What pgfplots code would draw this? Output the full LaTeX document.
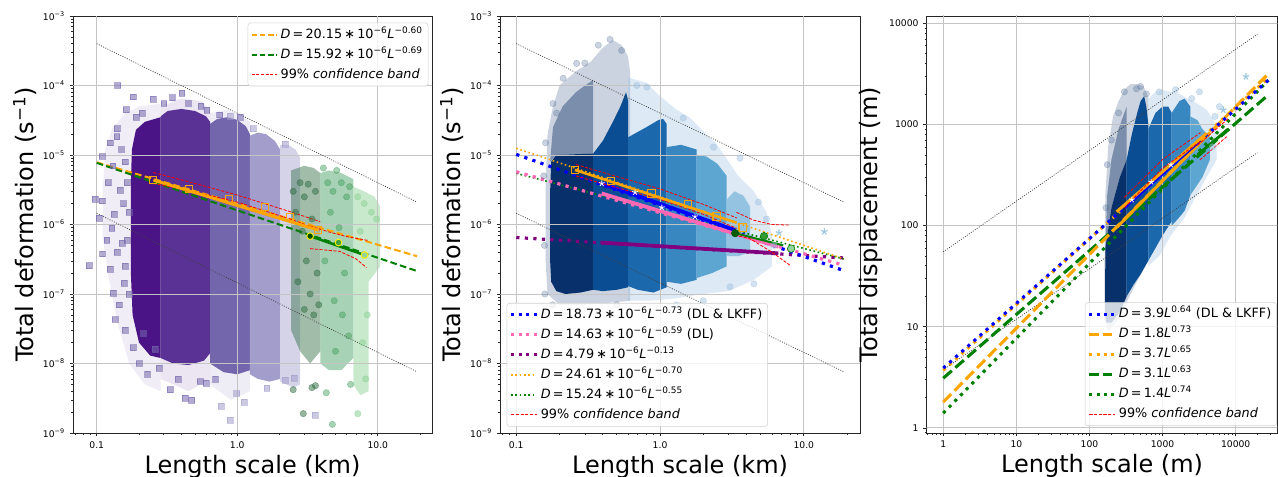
\documentclass[border=0pt]{standalone}
\usepackage{fontspec}
\setmainfont{DejaVu Sans}
\usepackage{pgfplots}
\pgfplotsset{compat=1.18}

\definecolor{mplorange}{HTML}{FFA500}
\definecolor{mplgreen}{HTML}{008000}
\definecolor{mplred}{HTML}{FF0000}
\definecolor{mplblue}{HTML}{0000FF}
\definecolor{mplpink}{HTML}{FF69B4}
\definecolor{mplpurple}{HTML}{800080}
\definecolor{gridc}{HTML}{C4C4C4}
\definecolor{pA}{HTML}{4A1486}
\definecolor{pB}{HTML}{5A3194}
\definecolor{pC}{HTML}{7466AD}
\definecolor{pD}{HTML}{A29DCB}
\definecolor{pE}{HTML}{D5D3E8}
\definecolor{gF}{HTML}{2F6D42}
\definecolor{gG}{HTML}{3F9C5A}
\definecolor{gH}{HTML}{93D49C}
\definecolor{bA}{HTML}{08306B}
\definecolor{bAs}{HTML}{1B3C6E}
\definecolor{bB}{HTML}{0B4D92}
\definecolor{bC}{HTML}{1C68AD}
\definecolor{bD}{HTML}{3887C1}
\definecolor{bE}{HTML}{5EA6D2}
\definecolor{bF}{HTML}{93C3E0}
\definecolor{haloL}{HTML}{506C94}
\definecolor{haloR}{HTML}{9DBFDF}
\definecolor{starb}{HTML}{9ECAE1}

\newcommand{\eqsp}{\hspace{0.17em}}
\newcommand{\mx}[1]{\textsuperscript{#1}}

\tikzset{
 myguide/.style={black!75, line width=0.55pt, dash pattern=on 0.7pt off 1.1pt},
 mygrid/.style={gridc, line width=0.6pt},
 myband/.style={color=mplred, draw=mplred, line width=0.6pt, dash pattern=on 2.4pt off 1.1pt},
}

\pgfplotsset{
  every axis/.append style={
  scale only axis,
  axis line style={line width=0.6pt, black!85},
  tick align=outside, xtick pos=left, ytick pos=left,
  major tick length=2.6pt, minor tick length=1.5pt,
  tick style={black!85, line width=0.5pt},
  tick label style={font=\fontsize{6.9}{8}\selectfont},
  label style={font=\fontsize{18}{21}\selectfont},
  legend cell align=left},
  every axis legend/.append style={font=\fontsize{9.6}{11}\selectfont, draw=black!18, fill=white,
    fill opacity=0.8, text opacity=1, draw opacity=1, rounded corners=2pt,
    inner xsep=2pt, inner ysep=2.5pt, row sep=2.6pt,
    nodes={inner xsep=2pt, inner ysep=1.5pt, text height=7.3pt, text depth=2.1pt}},
}

\begin{document}
\begin{tikzpicture}
\useasboundingbox (0,0) rectangle (958.5pt,357.75pt);

%%%%%%%%%%%%%%%%%%%%%%%% PANEL 1
\begin{axis}[xmode=log, ymode=log, anchor=south west,
  /pgf/number format/assume math mode=true,
  legend image code/.code={\draw[#1] (0pt,0pt) -- (19pt,0pt);},
  xlabel style={at={(axis description cs:0.5,0)}, anchor=base, yshift=-30pt},
  at={(54.75pt,33pt)}, width=269.25pt, height=312.75pt,
  xmin=0.0678, xmax=24.3, ymin=1e-9, ymax=1e-3,
  ytick={1e-9,1e-8,1e-7,1e-6,1e-5,1e-4,1e-3},
  yticklabels={10\mx{−9},10\mx{−8},10\mx{−7},10\mx{−6},10\mx{−5},10\mx{−4},10\mx{−3}},
  minor ytick={2e-9,3e-9,4e-9,5e-9,6e-9,7e-9,8e-9,9e-9,2e-8,3e-8,4e-8,5e-8,6e-8,7e-8,8e-8,9e-8,2e-7,3e-7,4e-7,5e-7,6e-7,7e-7,8e-7,9e-7,2e-6,3e-6,4e-6,5e-6,6e-6,7e-6,8e-6,9e-6,2e-5,3e-5,4e-5,5e-5,6e-5,7e-5,8e-5,9e-5,2e-4,3e-4,4e-4,5e-4,6e-4,7e-4,8e-4,9e-4},
  xtick={0.1,1,10}, xticklabels={0.1,1.0,10.0},
  minor xtick={0.07,0.08,0.09,0.2,0.3,0.4,0.5,0.6,0.7,0.8,0.9,2,3,4,5,6,7,8,9,20},
  xlabel={Length scale (km)}, ylabel={Total deformation (s\mx{−1})},
  ylabel style={at={(axis description cs:-0.1337,0.5)}, anchor=center},
  legend style={at={(axis description cs:0.9897,0.9839)}, anchor=north east}]
% clouds
\addplot[draw=none, fill=pA, fill opacity=0.08, forget plot] coordinates {(0.11,3e-6) (0.115,1.2e-5) (0.13,2.5e-5) (0.16,4e-5) (0.2,5e-5) (0.285,5.5e-5) (0.285,4e-9) (0.22,5e-9) (0.17,1e-8) (0.14,4e-8) (0.12,2e-7) (0.11,7e-7)};
\addplot[draw=none, fill=pA, forget plot] coordinates {(0.175,4e-6) (0.178,1.2e-5) (0.19,2.3e-5) (0.22,3e-5) (0.285,3.5e-5) (0.285,1.2e-8) (0.24,1.3e-8) (0.2,2e-8) (0.18,5e-8) (0.175,2e-7)};
\addplot[draw=none, fill=pB, fill opacity=0.12, forget plot] coordinates {(0.285,5e-5) (0.4,6.5e-5) (0.55,6e-5) (0.64,4.5e-5) (0.64,6e-9) (0.45,4e-9) (0.285,6e-9)};
\addplot[draw=none, fill=pB, forget plot] coordinates {(0.285,3.6e-5) (0.32,4.3e-5) (0.4,4.6e-5) (0.5,4.3e-5) (0.6,3.6e-5) (0.64,3e-5) (0.64,1.4e-8) (0.58,1.1e-8) (0.45,9.5e-9) (0.35,1e-8) (0.285,1.2e-8)};
\addplot[draw=none, fill=pC, fill opacity=0.12, forget plot] coordinates {(0.64,4e-5) (0.85,4.5e-5) (1.1,3.5e-5) (1.23,3e-5) (1.23,4e-9) (0.9,3e-9) (0.64,5e-9)};
\addplot[draw=none, fill=pC, forget plot] coordinates {(0.64,2.8e-5) (0.72,3.3e-5) (0.85,3.5e-5) (1.0,3.2e-5) (1.15,2.6e-5) (1.23,2e-5) (1.23,8e-9) (1.0,7e-9) (0.8,7.5e-9) (0.64,1e-8)};
\addplot[draw=none, fill=pD, forget plot] coordinates {(1.23,1.9e-5) (1.4,2.1e-5) (1.6,2e-5) (1.85,1.6e-5) (2.02,1.2e-5) (2.02,6e-9) (1.7,5.5e-9) (1.4,6e-9) (1.23,7e-9)};
\addplot[draw=none, fill=pE, forget plot] coordinates {(2.02,1.4e-5) (2.3,1.4e-5) (2.6,1.2e-5) (2.8,9e-6) (2.8,5e-9) (2.5,4.5e-9) (2.02,5.5e-9)};
\addplot[draw=none, fill=gF, fill opacity=0.45, forget plot] coordinates {(2.42,6e-6) (3,7e-6) (3.5,6.5e-6) (3.9,5.5e-6) (3.9,1.5e-8) (3.3,1e-8) (2.8,1.5e-8) (2.42,3e-8)};
\addplot[draw=none, fill=gG, fill opacity=0.45, forget plot] coordinates {(3.9,5.5e-6) (4.5,6e-6) (5.5,5.5e-6) (6.7,4.5e-6) (6.7,1.2e-8) (5.5,8e-9) (4.5,8e-9) (3.9,1e-8)};
\addplot[draw=none, fill=gH, fill opacity=0.5, forget plot] coordinates {(6.7,3.5e-6) (8,3e-6) (9.5,2.5e-6) (10.4,1.8e-6) (10.4,2.5e-7) (8.6,1.5e-7) (8.6,4e-9) (7.5,3.5e-9) (6.7,5e-9)};
% scattered points
\addplot[only marks, mark=square*, mark size=2.2pt, color=pC, opacity=0.55, forget plot] coordinates {(0.141,1e-4) (0.182,6.9e-5) (0.162,4.5e-5) (0.253,6.4e-5) (0.403,7.7e-5) (0.346,6.7e-5) (0.139,1.84e-5) (0.14,2.4e-5) (0.109,9.5e-6) (0.097,2.3e-6) (0.109,2.2e-6) (0.0887,2.56e-7) (0.104,1.23e-6) (0.110,3.8e-7) (0.124,2.3e-7) (0.131,1.02e-7) (0.135,4.3e-8) (0.128,8.8e-7) (0.147,3.1e-6) (0.133,1.4e-6) (0.151,5.4e-7) (0.157,1.42e-7) (0.182,1.69e-8) (0.215,2.7e-8) (0.26,1.6e-8) (0.279,8.5e-9) (0.333,4.2e-9) (0.425,3.2e-9) (0.474,3e-9) (0.544,5.5e-9) (0.6,5.2e-9) (0.607,4.4e-5) (0.16,8e-6) (0.15,1.2e-5) (0.12,4e-6) (0.118,6e-7) (0.145,7e-8) (0.16,3e-8) (0.2,1e-8) (0.125,1.5e-5) (0.155,2e-6) (0.14,4e-7) (0.165,6e-7) (0.17,1.5e-6) (0.16,2.5e-7) (0.13,7e-6) (0.165,4e-6) (0.17,1e-7) (0.19,3.5e-5) (0.21,4e-5) (0.3,5.5e-5) (0.45,5.5e-5) (0.55,5e-5) (0.23,7e-9) (0.38,6e-9) (0.7,6e-9) (0.75,3.8e-5) (1.05,3.5e-5)};
\addplot[only marks, mark=square*, mark size=2.2pt, color=pD, opacity=0.55, forget plot] coordinates {(0.767,2.45e-9) (0.889,1.54e-9) (0.99,3.7e-9) (1.12,2.8e-9) (1.62,4.4e-9) (2.19,5.8e-9) (2.55,6.1e-9) (0.889,3.6e-5) (1.30,2.4e-5) (1.53,1.8e-5) (2.19,1.44e-5) (3.58,1.8e-9)};
\addplot[only marks, mark=*, mark size=2.4pt, color=gF, opacity=0.5, forget plot] coordinates {(2.5,3e-6) (2.6,1.5e-6) (2.8,4e-6) (3.0,2.5e-6) (3.2,3.8e-6) (3.4,1.2e-6) (3.6,3e-6) (2.9,8e-7) (3.1,3e-7) (3.3,1e-7) (3.5,5e-8) (2.7,1.5e-7) (3.0,6e-8) (3.7,2e-7) (3.4,4.5e-9) (3.6,4.8e-9) (2.5,4.2e-9) (2.95,1.9e-9) (3.8,7e-8)};
\addplot[only marks, mark=*, mark size=2.4pt, color=gG, opacity=0.45, forget plot] coordinates {(4.1,6.5e-6) (4.4,4e-6) (4.8,3e-6) (5.1,6e-6) (5.5,4e-6) (6.0,2.5e-6) (6.3,3.5e-6) (4.6,1.5e-6) (5.3,9e-7) (4.2,3e-7) (5.8,2e-7) (4.9,8e-8) (5.6,5e-8) (6.2,2.5e-8) (4.75,1.33e-9) (5.0,1.5e-8) (6.4,5e-9) (4.3,3.8e-9)};
\addplot[only marks, mark=*, mark size=2.4pt, color=gH, opacity=0.6, forget plot] coordinates {(7.2,2.5e-6) (8,2e-6) (9,1.5e-6) (9.8,1.2e-6) (7.5,8e-7) (8.4,5e-8) (7.8,2e-8) (7.2,1.9e-9) (8.2,6e-9)};
% grid
\addplot[mygrid, forget plot] coordinates {(0.1,1e-9) (0.1,1e-3)};
\addplot[mygrid, forget plot] coordinates {(1,1e-9) (1,1e-3)};
\addplot[mygrid, forget plot] coordinates {(10,1e-9) (10,1e-3)};
\addplot[mygrid, forget plot] coordinates {(0.05,1e-8) (30,1e-8)};
\addplot[mygrid, forget plot] coordinates {(0.05,1e-7) (30,1e-7)};
\addplot[mygrid, forget plot] coordinates {(0.05,1e-6) (30,1e-6)};
\addplot[mygrid, forget plot] coordinates {(0.05,1e-5) (30,1e-5)};
\addplot[mygrid, forget plot] coordinates {(0.05,1e-4) (30,1e-4)};
% guides
\addplot[myguide, forget plot] coordinates {(0.1,4e-4) (19,2.1e-6)};
\addplot[myguide, forget plot] coordinates {(0.1,1.45e-6) (19,7.6e-9)};
% fits
\addplot[mplorange, line width=1.5pt, dash pattern=on 5pt off 2.5pt, forget plot] coordinates {(0.1,7.85e-6) (19,3.5e-7)};
\addplot[mplgreen, line width=1.5pt, dash pattern=on 5pt off 2.5pt, forget plot] coordinates {(0.1,7.7e-6) (19,2.14e-7)};
\addplot[myband, forget plot] coordinates {(0.253,5.6e-6) (0.5,3.9e-6) (1,2.65e-6) (2.38,1.53e-6) (3.89,1.1e-6)};
\addplot[myband, forget plot] coordinates {(0.253,3.9e-6) (0.5,2.95e-6) (1,2.1e-6) (2.38,1.2e-6) (3.88,8.3e-7)};
\addplot[myband, forget plot] coordinates {(3.3,9.5e-7) (4.5,7.8e-7) (6,6.7e-7) (8.5,5.9e-7)};
\addplot[myband, forget plot] coordinates {(3.3,4.5e-7) (5.37,4.1e-7) (7,3.2e-7) (8.3,2.4e-7)};
\addplot[mplorange, line width=2.2pt, forget plot] coordinates {(0.253,4.36e-6) (3.78,8.3e-7)};
\addplot[only marks, mark=square, mark size=2.6pt, mark options={draw=mplorange, line width=0.8pt}, forget plot] coordinates {(0.253,4.36e-6) (0.454,3.24e-6) (0.87,2.31e-6) (1.585,1.77e-6) (2.38,1.3e-6) (3.78,8.3e-7)};
\addplot[mplgreen, line width=1.9pt, forget plot] coordinates {(3.3,6.8e-7) (8.04,3.64e-7)};
\addplot[only marks, mark=*, mark size=2.5pt, mark options={fill=mplgreen!60!black, draw=yellow, line width=0.7pt}, forget plot] coordinates {(3.3,6.8e-7)};
\addplot[only marks, mark=*, mark size=2.5pt, mark options={fill=mplgreen!75, draw=yellow, line width=0.7pt}, forget plot] coordinates {(5.25,5.5e-7)};
\addplot[only marks, mark=*, mark size=2.5pt, mark options={fill=gH, draw=yellow, line width=0.7pt}, forget plot] coordinates {(8.04,3.64e-7)};
% legend
\addlegendimage{draw=mplorange, line width=1.5pt, dash pattern=on 4pt off 2.2pt}
\addlegendentry{\textit{D}\eqsp=\eqsp20.15\eqsp∗\eqsp10\mx{−6}\textit{L}\mx{−0.60}}
\addlegendimage{draw=mplgreen, line width=1.5pt, dash pattern=on 4pt off 2.2pt}
\addlegendentry{\textit{D}\eqsp=\eqsp15.92\eqsp∗\eqsp10\mx{−6}\textit{L}\mx{−0.69}}
\addlegendimage{myband}
\addlegendentry{99\% \textit{confidence band}}
\end{axis}

%%%%%%%%%%%%%%%%%%%%%%%% PANEL 2
\begin{axis}[xmode=log, ymode=log, anchor=south west,
  /pgf/number format/assume math mode=true,
  legend image code/.code={\draw[#1] (0pt,0pt) -- (19pt,0pt);},
  xlabel style={at={(axis description cs:0.5,0)}, anchor=base, yshift=-30pt},
  at={(375.2pt,33pt)}, width=269.8pt, height=312.75pt,
  xmin=0.0774, xmax=24.6, ymin=1e-9, ymax=1e-3,
  ytick={1e-9,1e-8,1e-7,1e-6,1e-5,1e-4,1e-3},
  yticklabels={10\mx{−9},10\mx{−8},10\mx{−7},10\mx{−6},10\mx{−5},10\mx{−4},10\mx{−3}},
  minor ytick={2e-9,3e-9,4e-9,5e-9,6e-9,7e-9,8e-9,9e-9,2e-8,3e-8,4e-8,5e-8,6e-8,7e-8,8e-8,9e-8,2e-7,3e-7,4e-7,5e-7,6e-7,7e-7,8e-7,9e-7,2e-6,3e-6,4e-6,5e-6,6e-6,7e-6,8e-6,9e-6,2e-5,3e-5,4e-5,5e-5,6e-5,7e-5,8e-5,9e-5,2e-4,3e-4,4e-4,5e-4,6e-4,7e-4,8e-4,9e-4},
  xtick={0.1,1,10}, xticklabels={0.1,1.0,10.0},
  minor xtick={0.08,0.09,0.2,0.3,0.4,0.5,0.6,0.7,0.8,0.9,2,3,4,5,6,7,8,9,20},
  xlabel={Length scale (km)}, ylabel={Total deformation (s\mx{−1})},
  ylabel style={at={(axis description cs:-0.1343,0.5)}, anchor=center},
  legend style={at={(axis description cs:0.0178,0.0151)}, anchor=south west}]
\addplot[draw=none, fill=haloL, fill opacity=0.3, forget plot] coordinates {(0.16,4e-6) (0.165,2e-5) (0.18,5e-5) (0.2,1e-4) (0.26,1.6e-4) (0.33,2.2e-4) (0.4,3.5e-4) (0.47,4.5e-4) (0.54,3.8e-4) (0.6,2.6e-4) (0.62,1.5e-4) (0.62,8e-8) (0.45,7.5e-8) (0.3,7e-8) (0.2,7e-8) (0.165,1e-7) (0.16,3e-7)};
\addplot[draw=none, fill=haloR, fill opacity=0.35, forget plot] coordinates {(0.6,1.3e-4) (0.8,1.1e-4) (1.0,7e-5) (1.3,4.5e-5) (1.6,3.5e-5) (2.0,2.2e-5) (2.5,1.4e-5) (3.0,8e-6) (3.5,5e-6) (4.5,3e-6) (5.5,1.5e-6) (6.0,7e-7) (6.0,2.5e-7) (4.5,1.6e-7) (3.0,1.1e-7) (2.0,1.0e-7) (1.2,8.5e-8) (0.8,8e-8) (0.6,8e-8)};
\addplot[draw=none, fill=bAs, fill opacity=0.45, forget plot] coordinates {(0.172,8e-6) (0.18,2.5e-5) (0.21,5e-5) (0.26,8e-5) (0.3,1e-4) (0.343,1.2e-4) (0.343,1.05e-5) (0.19,1e-5)};
\addplot[draw=none, fill=bA, forget plot] coordinates {(0.172,3e-6) (0.175,8e-6) (0.19,1e-5) (0.343,1.05e-5) (0.343,1.15e-7) (0.28,1.05e-7) (0.22,1e-7) (0.19,1.1e-7) (0.175,1.5e-7) (0.172,3e-7)};
\addplot[draw=none, fill=bB, forget plot] coordinates {(0.343,1.05e-5) (0.40,1.6e-5) (0.47,3e-5) (0.53,5e-5) (0.58,8e-5) (0.60,6e-5) (0.60,1.25e-7) (0.5,1.15e-7) (0.4,1.1e-7) (0.343,1.15e-7)};
\addplot[draw=none, fill=bC, forget plot] coordinates {(0.60,1.8e-5) (0.8,2.5e-5) (0.98,3.2e-5) (1.05,3.3e-5) (1.113,2.8e-5) (1.113,1.25e-7) (0.9,1.05e-7) (0.7,1.15e-7) (0.60,1.3e-7)};
\addplot[draw=none, fill=bD, forget plot] coordinates {(1.113,1.3e-5) (1.4,1.4e-5) (1.8,1.2e-5) (1.8,1.6e-7) (1.4,1.4e-7) (1.113,1.5e-7)};
\addplot[draw=none, fill=bE, forget plot] coordinates {(1.8,1.0e-5) (2.1,9.5e-6) (2.5,7.5e-6) (2.91,5e-6) (2.91,2.5e-7) (2.3,2e-7) (1.8,1.7e-7)};
\addplot[draw=none, fill=bF, forget plot] coordinates {(2.91,2.3e-6) (3.3,3e-6) (3.8,2.6e-6) (4.23,1.8e-6) (4.23,4e-7) (3.5,3.5e-7) (2.91,3.5e-7)};
\addplot[only marks, mark=*, mark size=2.4pt, color=haloL, opacity=0.3, forget plot] coordinates {(0.449,4.6e-4) (0.541,3.2e-4) (0.372,3.8e-4) (0.212,1.27e-4) (0.263,2.08e-4) (0.30,2.1e-4) (0.179,7e-8) (0.158,1e-7) (0.191,4e-5) (0.18,5.5e-5) (0.16,1.5e-5) (0.5,7e-8) (0.155,5e-6) (0.157,5e-7)};
\addplot[only marks, mark=*, mark size=2.4pt, color=haloR, opacity=0.45, forget plot] coordinates {(0.69,1e-4) (0.81,9.5e-5) (1.45,3.4e-5) (2.35,1.3e-5) (4.83,2.1e-6) (3.07,1.27e-7) (5.5,1.2e-6) (6.2,5e-7) (3.6,9e-6) (2.0,8e-8) (1.3,7e-8) (4.5,1.4e-7)};
% grid
\addplot[mygrid, forget plot] coordinates {(0.1,1e-9) (0.1,1e-3)};
\addplot[mygrid, forget plot] coordinates {(1,1e-9) (1,1e-3)};
\addplot[mygrid, forget plot] coordinates {(10,1e-9) (10,1e-3)};
\addplot[mygrid, forget plot] coordinates {(0.05,1e-8) (30,1e-8)};
\addplot[mygrid, forget plot] coordinates {(0.05,1e-7) (30,1e-7)};
\addplot[mygrid, forget plot] coordinates {(0.05,1e-6) (30,1e-6)};
\addplot[mygrid, forget plot] coordinates {(0.05,1e-5) (30,1e-5)};
\addplot[mygrid, forget plot] coordinates {(0.05,1e-4) (30,1e-4)};
\addplot[myguide, forget plot] coordinates {(0.1,4e-4) (19,2.1e-6)};
\addplot[myguide, forget plot] coordinates {(0.1,1.45e-6) (19,7.6e-9)};
% fits (dotted)
\addplot[mplpurple, line width=2.4pt, dash pattern=on 2.4pt off 4pt, forget plot] coordinates {(0.1,6.5e-7) (19,3.3e-7)};
\addplot[mplgreen, line width=1.2pt, dash pattern=on 1.2pt off 2pt, forget plot] coordinates {(0.1,5.45e-6) (19,3.2e-7)};
\addplot[mplpink, line width=2.4pt, dash pattern=on 2.4pt off 4pt, forget plot] coordinates {(0.1,5.75e-6) (19,2.6e-7)};
\addplot[mplblue, line width=2.4pt, dash pattern=on 2.4pt off 4pt, forget plot] coordinates {(0.1,1.02e-5) (19,2.17e-7)};
\addplot[mplorange, line width=1.2pt, dash pattern=on 1.2pt off 2pt, forget plot] coordinates {(0.1,1.25e-5) (19,3.2e-7)};
% solid fits
\addplot[mplpurple, line width=2.8pt, forget plot] coordinates {(0.385,5.5e-7) (6.65,3.85e-7)};
\addplot[mplpink, line width=2.8pt, forget plot] coordinates {(0.393,2.8e-6) (6.65,4.8e-7)};
\addplot[mplblue, line width=2.8pt, forget plot] coordinates {(0.393,3.9e-6) (3.33,8.3e-7)};
\addplot[only marks, mark=star, mark size=2.2pt, mark options={draw=white, line width=0.6pt}, forget plot] coordinates {(0.393,3.9e-6) (0.67,2.9e-6) (1.03,1.75e-6) (1.75,1.3e-6)};
\addplot[myband, forget plot] coordinates {(0.26,7.3e-6) (0.5,4.9e-6) (1,3.25e-6) (2,1.95e-6) (3.42,1.24e-6)};
\addplot[myband, forget plot] coordinates {(0.26,5e-6) (0.45,3.6e-6) (1,2.3e-6) (2,1.4e-6) (3.42,8.8e-7)};
\addplot[myband, forget plot] coordinates {(3.4,1.5e-6) (4.5,1.15e-6) (6,1.0e-6) (8,9.8e-7)};
\addplot[myband, forget plot] coordinates {(3.3,7e-7) (4.2,6.3e-7) (6,4e-7) (8,2.6e-7)};
\addplot[mplorange, line width=1.9pt, forget plot] coordinates {(0.256,6.1e-6) (3.41,1.06e-6)};
\addplot[only marks, mark=square, mark size=2.8pt, mark options={draw=mplorange, line width=0.8pt}, forget plot] coordinates {(0.256,6.1e-6) (0.456,4.2e-6) (0.875,2.8e-6) (1.56,1.97e-6) (2.48,1.3e-6) (3.76,9e-7)};
\addplot[mplgreen, line width=1.5pt, forget plot] coordinates {(3.33,7.5e-7) (7.2,5e-7)};
\addplot[only marks, mark=*, mark size=2.8pt, mark options={fill=mplgreen!70!black, draw=mplgreen!70!black}, forget plot] coordinates {(3.33,7.5e-7)};
\addplot[only marks, mark=*, mark size=2.8pt, mark options={fill=mplgreen!80, draw=mplgreen}, forget plot] coordinates {(5.29,6.8e-7)};
\addplot[only marks, mark=*, mark size=2.8pt, mark options={fill=gH, draw=mplgreen}, forget plot] coordinates {(8.16,4.5e-7)};
\addplot[only marks, mark=star, mark size=2.6pt, mark options={draw=starb, line width=0.9pt}, forget plot] coordinates {(6.73,7.6e-7) (13.9,7.9e-7)};
\addlegendimage{draw=mplblue, line width=2.4pt, dash pattern=on 2.4pt off 3.2pt}
\addlegendentry{\textit{D}\eqsp=\eqsp18.73\eqsp∗\eqsp10\mx{−6}\textit{L}\mx{−0.73} (DL \& LKFF)}
\addlegendimage{draw=mplpink, line width=2.4pt, dash pattern=on 2.4pt off 3.2pt}
\addlegendentry{\textit{D}\eqsp=\eqsp14.63\eqsp∗\eqsp10\mx{−6}\textit{L}\mx{−0.59} (DL)}
\addlegendimage{draw=mplpurple, line width=2.4pt, dash pattern=on 2.4pt off 3.2pt}
\addlegendentry{\textit{D}\eqsp=\eqsp4.79\eqsp∗\eqsp10\mx{−6}\textit{L}\mx{−0.13}}
\addlegendimage{draw=mplorange, line width=1.2pt, dash pattern=on 1.2pt off 2pt}
\addlegendentry{\textit{D}\eqsp=\eqsp24.61\eqsp∗\eqsp10\mx{−6}\textit{L}\mx{−0.70}}
\addlegendimage{draw=mplgreen, line width=1.2pt, dash pattern=on 1.2pt off 2pt}
\addlegendentry{\textit{D}\eqsp=\eqsp15.24\eqsp∗\eqsp10\mx{−6}\textit{L}\mx{−0.55}}
\addlegendimage{myband}
\addlegendentry{99\% \textit{confidence band}}
\end{axis}

%%%%%%%%%%%%%%%%%%%%%%%% PANEL 3
\begin{axis}[xmode=log, ymode=log, anchor=south west,
  /pgf/number format/assume math mode=true,
  legend image code/.code={\draw[#1] (0pt,0pt) -- (19pt,0pt);},
  xlabel style={at={(axis description cs:0.5,0)}, anchor=base, yshift=-30pt},
  at={(695pt,33pt)}, width=263.1pt, height=312.75pt,
  xmin=0.593, xmax=37300, ymin=0.89, ymax=11800,
  xtick={1,10,100,1000,10000}, xticklabels={1,10,100,1000,10000},
  ytick={1,10,100,1000,10000}, yticklabels={1,10,100,1000,10000},
  minor xtick={0.6,0.7,0.8,0.9,2,3,4,5,6,7,8,9,20,30,40,50,60,70,80,90,200,300,400,500,600,700,800,900,2000,3000,4000,5000,6000,7000,8000,9000,20000,30000},
  minor ytick={0.9,2,3,4,5,6,7,8,9,20,30,40,50,60,70,80,90,200,300,400,500,600,700,800,900,2000,3000,4000,5000,6000,7000,8000,9000},
  xlabel={Length scale (m)}, ylabel={Total displacement (m)},
  ylabel style={at={(axis description cs:-0.159,0.5)}, anchor=center},
  legend style={at={(axis description cs:0.451,0.0168)}, anchor=south west}]
\addplot[draw=none, fill=haloL, fill opacity=0.3, forget plot] coordinates {(160,40) (165,200) (180,600) (210,1200) (250,1700) (300,2200) (360,2500) (450,2500) (540,2400) (600,2100) (640,1800) (640,45) (400,24) (250,12) (180,9) (160,12)};
\addplot[draw=none, fill=haloR, fill opacity=0.35, forget plot] coordinates {(640,1800) (800,2100) (1000,2200) (1300,2100) (1700,2000) (2200,1800) (3000,1600) (4000,1400) (5000,1100) (5500,800) (5500,450) (4000,300) (2700,180) (2000,120) (1300,80) (900,50) (640,40)};
\addplot[draw=none, fill=bAs, fill opacity=0.45, forget plot] coordinates {(165,60) (175,200) (200,450) (250,900) (300,1300) (323,1500) (323,450) (260,300) (200,150)};
\addplot[draw=none, fill=bA, forget plot] coordinates {(163,14) (165,60) (200,150) (260,300) (323,450) (323,20) (260,14) (200,11) (170,11)};
\addplot[draw=none, fill=bB, forget plot] coordinates {(323,450) (380,800) (450,1300) (500,1700) (560,1900) (600,1500) (638,1000) (638,45) (500,33) (400,26) (323,20)};
\addplot[draw=none, fill=bC, forget plot] coordinates {(638,900) (800,1300) (1000,1500) (1200,1500) (1330,1300) (1330,110) (1000,80) (800,60) (638,45)};
\addplot[draw=none, fill=bD, forget plot] coordinates {(1330,1300) (1700,1700) (2000,1800) (2400,1500) (2400,200) (2000,140) (1600,115) (1330,100)};
\addplot[draw=none, fill=bE, forget plot] coordinates {(2400,1200) (3000,1100) (3500,900) (4450,750) (4450,450) (3500,300) (2400,200)};
\addplot[only marks, mark=*, mark size=2.4pt, color=haloL, opacity=0.3, forget plot] coordinates {(500,2370) (440,2250) (250,1300) (200,700) (175,400) (168,150) (300,2100) (600,2000)};
\addplot[only marks, mark=*, mark size=2.4pt, color=haloR, opacity=0.45, forget plot] coordinates {(900,2100) (3200,2100) (5200,1200) (6000,1500) (1500,2200) (2500,1800) (4800,600)};
% grid
\addplot[mygrid, forget plot] coordinates {(1,0.5) (1,20000)};
\addplot[mygrid, forget plot] coordinates {(10,0.5) (10,20000)};
\addplot[mygrid, forget plot] coordinates {(100,0.5) (100,20000)};
\addplot[mygrid, forget plot] coordinates {(1000,0.5) (1000,20000)};
\addplot[mygrid, forget plot] coordinates {(10000,0.5) (10000,20000)};
\addplot[mygrid, forget plot] coordinates {(0.5,1) (50000,1)};
\addplot[mygrid, forget plot] coordinates {(0.5,10) (50000,10)};
\addplot[mygrid, forget plot] coordinates {(0.5,100) (50000,100)};
\addplot[mygrid, forget plot] coordinates {(0.5,1000) (50000,1000)};
\addplot[mygrid, forget plot] coordinates {(0.5,10000) (50000,10000)};
\addplot[myguide, forget plot] coordinates {(1,55) (19770,7780)};
\addplot[myguide, forget plot] coordinates {(1,3.75) (19770,525)};
% fits
\addplot[mplgreen, line width=2.3pt, dash pattern=on 2.3pt off 3.8pt, forget plot] coordinates {(1,1.4) (28000,2736)};
\addplot[mplgreen, line width=2.3pt, dash pattern=on 8.5pt off 3.5pt, forget plot] coordinates {(1,3.1) (28000,1963)};
\addplot[mplorange, line width=2.3pt, dash pattern=on 2.3pt off 3.8pt, forget plot] coordinates {(1,3.7) (28000,2877)};
\addplot[mplorange, line width=2.3pt, dash pattern=on 8.5pt off 3.5pt, forget plot] coordinates {(1,1.8) (28000,3173)};
\addplot[mplblue, line width=2.3pt, dash pattern=on 2.3pt off 3.8pt, forget plot] coordinates {(1,3.9) (28000,2736)};
\addplot[mplorange, line width=2.2pt, forget plot] coordinates {(240,97) (3500,695)};
\addplot[mplblue, line width=2.2pt, forget plot] coordinates {(300,150) (3300,697)};
\addplot[mplorange, line width=2.2pt, forget plot] coordinates {(235,137) (4010,818)};
\addplot[only marks, mark=star, mark size=2.2pt, mark options={draw=white, line width=0.6pt}, forget plot] coordinates {(380,180) (700,270) (1300,400)};
\addplot[mplgreen, line width=2.2pt, forget plot] coordinates {(3000,500) (7900,900)};
\addplot[myband, forget plot] coordinates {(300,190) (1000,450) (3300,830)};
\addplot[myband, forget plot] coordinates {(300,150) (1000,370) (3300,680)};
\addplot[myband, forget plot] coordinates {(3000,620) (8000,1150)};
\addplot[myband, forget plot] coordinates {(3240,446) (7540,757)};
\addplot[only marks, mark=star, mark size=2.6pt, mark options={draw=starb, line width=0.9pt}, forget plot] coordinates {(13800,2970) (6760,1390)};
\addlegendimage{draw=mplblue, line width=2.3pt, dash pattern=on 2.3pt off 3.2pt}
\addlegendentry{\textit{D}\eqsp=\eqsp3.9\textit{L}\mx{0.64} (DL \& LKFF)}
\addlegendimage{draw=mplorange, line width=2.3pt, dash pattern=on 7pt off 3pt}
\addlegendentry{\textit{D}\eqsp=\eqsp1.8\textit{L}\mx{0.73}}
\addlegendimage{draw=mplorange, line width=2.3pt, dash pattern=on 2.3pt off 3.2pt}
\addlegendentry{\textit{D}\eqsp=\eqsp3.7\textit{L}\mx{0.65}}
\addlegendimage{draw=mplgreen, line width=2.3pt, dash pattern=on 7pt off 3pt}
\addlegendentry{\textit{D}\eqsp=\eqsp3.1\textit{L}\mx{0.63}}
\addlegendimage{draw=mplgreen, line width=2.3pt, dash pattern=on 2.3pt off 3.2pt}
\addlegendentry{\textit{D}\eqsp=\eqsp1.4\textit{L}\mx{0.74}}
\addlegendimage{myband}
\addlegendentry{99\% \textit{confidence band}}
\end{axis}
\end{tikzpicture}
\end{document}
